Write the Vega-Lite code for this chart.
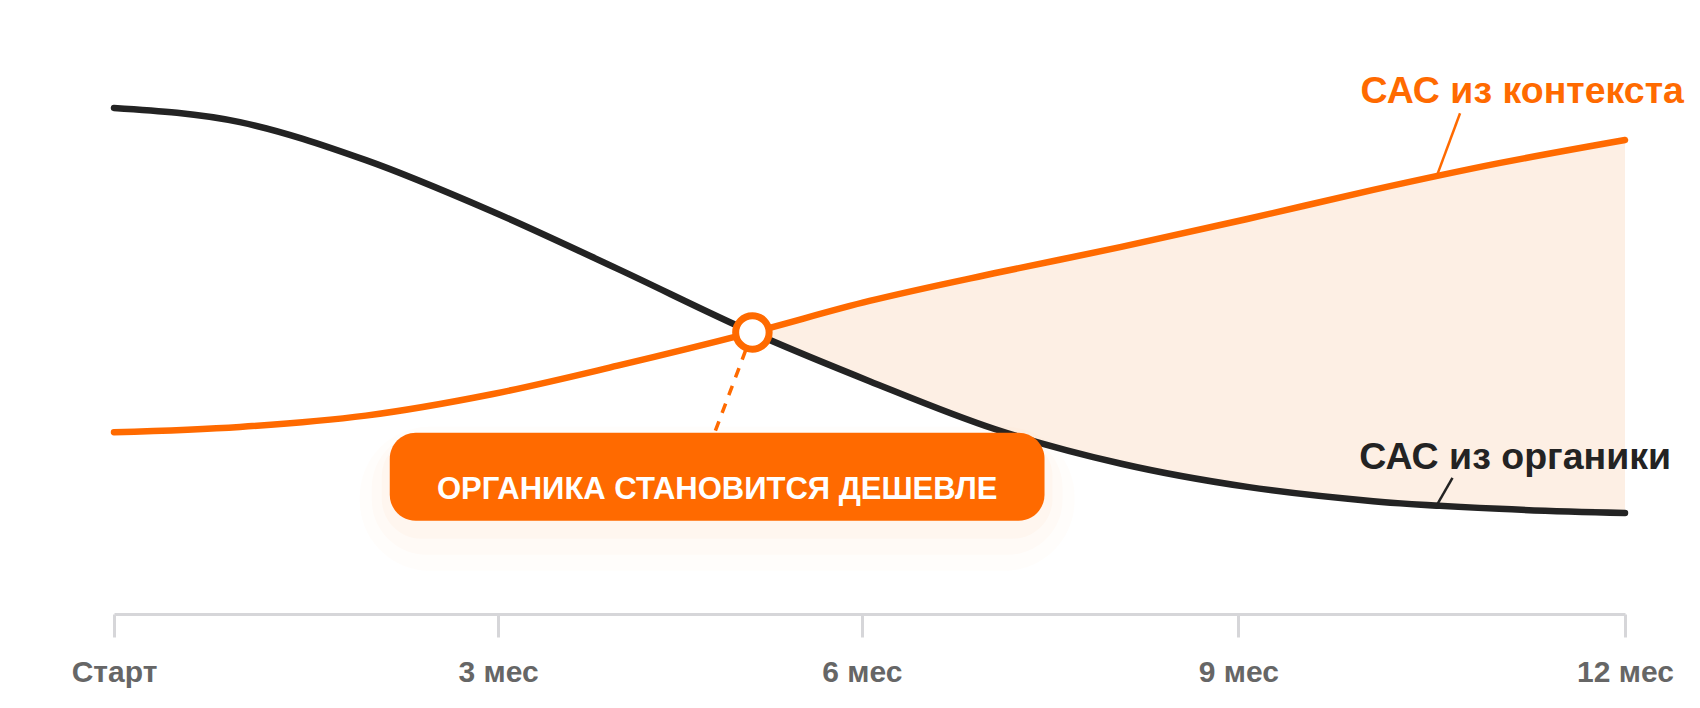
{
  "$schema": "https://vega.github.io/schema/vega-lite/v6.json",
  "description": "CAC from context ads vs CAC from organic over 12 months.",
  "width": 1511,
  "height": 594,
  "autosize": {"type": "none"},
  "padding": {"left": 114, "top": 20, "right": 75, "bottom": 94},
  "background": "#ffffff",
  "config": {"view": {"stroke": null}, "font": "Liberation Sans"},
  "datasets": {
    "curves": [
      {"month": 0, "series": "organic", "cac": 85.2},
      {"month": 1, "series": "organic", "cac": 82.8},
      {"month": 2, "series": "organic", "cac": 76.4},
      {"month": 3, "series": "organic", "cac": 67.8},
      {"month": 4, "series": "organic", "cac": 58.1},
      {"month": 5.07, "series": "organic", "cac": 47.4},
      {"month": 6, "series": "organic", "cac": 39.2},
      {"month": 7, "series": "organic", "cac": 31.1},
      {"month": 8, "series": "organic", "cac": 25.3},
      {"month": 9, "series": "organic", "cac": 21.4},
      {"month": 10, "series": "organic", "cac": 19.0},
      {"month": 11, "series": "organic", "cac": 17.7},
      {"month": 12, "series": "organic", "cac": 17.0},
      {"month": 0, "series": "context", "cac": 30.6},
      {"month": 1, "series": "context", "cac": 31.5},
      {"month": 2, "series": "context", "cac": 33.4},
      {"month": 3, "series": "context", "cac": 37.0},
      {"month": 4, "series": "context", "cac": 41.8},
      {"month": 5.07, "series": "context", "cac": 47.4},
      {"month": 6, "series": "context", "cac": 52.7},
      {"month": 7, "series": "context", "cac": 57.4},
      {"month": 8, "series": "context", "cac": 61.8},
      {"month": 9, "series": "context", "cac": 66.5},
      {"month": 10, "series": "context", "cac": 71.4},
      {"month": 11, "series": "context", "cac": 75.9},
      {"month": 12, "series": "context", "cac": 79.8}
    ],
    "crossing": [{"month": 5.07, "cac": 47.4, "month2": 4.77, "cac2": 30.5}],
    "callout": [{"month": 2.19, "month2": 7.39, "cac": 30.5, "cac2": 15.7}],
    "callout_text": [{"month": 4.79, "cac": 19.4, "text": "ОРГАНИКА СТАНОВИТСЯ ДЕШЕВЛЕ"}],
    "leaders": [
      {"series": "context", "month": 10.69, "cac": 84.3, "month2": 10.51, "cac2": 74.0},
      {"series": "organic", "month": 10.63, "cac": 22.9, "month2": 10.51, "cac2": 18.5}
    ],
    "labels": [
      {"series": "context", "month": 9.9, "cac": 86.0, "text": "САС из контекста"},
      {"series": "organic", "month": 9.89, "cac": 24.4, "text": "САС из органики"}
    ]
  },
  "encoding": {
    "x": {
      "field": "month",
      "type": "quantitative",
      "scale": {"domain": [0, 12], "nice": false, "zero": false},
      "axis": {
        "title": null,
        "grid": false,
        "values": [0, 3.05, 5.94, 8.93, 12],
        "labelExpr": "round(datum.value) == 0 ? 'Старт' : round(datum.value / 3) * 3 + ' мес'",
        "domainColor": "#D6D6D9",
        "domainWidth": 3,
        "tickColor": "#D6D6D9",
        "tickWidth": 3,
        "tickSize": 23,
        "labelFont": "Liberation Sans",
        "labelFontWeight": "bold",
        "labelFontSize": 30,
        "labelColor": "#666666",
        "labelPadding": 44,
        "labelBaseline": "alphabetic",
        "labelFlush": false,
        "labelOverlap": false
      }
    },
    "y": {
      "field": "cac",
      "type": "quantitative",
      "scale": {"domain": [0, 100], "nice": false, "zero": false},
      "axis": null
    }
  },
  "layer": [
    {
      "data": {"name": "curves"},
      "transform": [
        {"pivot": "series", "value": "cac", "groupby": ["month"]},
        {"filter": "datum.month >= 5.07"}
      ],
      "mark": {"type": "area", "interpolate": "monotone", "color": "#FDEFE4"},
      "encoding": {
        "y": {"field": "context", "type": "quantitative", "axis": null},
        "y2": {"field": "organic"}
      }
    },
    {
      "data": {"name": "curves"},
      "mark": {"type": "line", "interpolate": "monotone", "strokeWidth": 6.5, "strokeCap": "round"},
      "encoding": {
        "color": {
          "field": "series",
          "type": "nominal",
          "scale": {"domain": ["context", "organic"], "range": ["#FF6A00", "#232323"]},
          "legend": null
        },
        "order": {"field": "month"}
      }
    },
    {
      "data": {"name": "leaders"},
      "mark": {"type": "rule", "strokeWidth": 2.5},
      "encoding": {
        "x2": {"field": "month2"},
        "y2": {"field": "cac2"},
        "color": {"field": "series", "type": "nominal", "legend": null}
      }
    },
    {
      "data": {"name": "crossing"},
      "mark": {"type": "rule", "color": "#FF6A00", "strokeWidth": 3.5, "strokeDash": [10, 9]},
      "encoding": {
        "x2": {"field": "month2"},
        "y2": {"field": "cac2"}
      }
    },
    {
      "data": {"name": "crossing"},
      "mark": {"type": "point", "shape": "circle", "size": 1120, "filled": true, "fill": "#ffffff", "stroke": "#FF6A00", "strokeWidth": 7, "opacity": 1}
    },
    {
      "data": {"name": "callout"},
      "mark": {"type": "rect", "color": "#FF8A3D", "opacity": 0.018, "cornerRadius": 70, "xOffset": -30, "x2Offset": 30, "yOffset": -6, "y2Offset": 50},
      "encoding": {"x2": {"field": "month2"}, "y2": {"field": "cac2"}}
    },
    {
      "data": {"name": "callout"},
      "mark": {"type": "rect", "color": "#FF8A3D", "opacity": 0.025, "cornerRadius": 55, "xOffset": -18, "x2Offset": 18, "yOffset": 0, "y2Offset": 34},
      "encoding": {"x2": {"field": "month2"}, "y2": {"field": "cac2"}}
    },
    {
      "data": {"name": "callout"},
      "mark": {"type": "rect", "color": "#FF8A3D", "opacity": 0.035, "cornerRadius": 40, "xOffset": -8, "x2Offset": 8, "yOffset": 4, "y2Offset": 18},
      "encoding": {"x2": {"field": "month2"}, "y2": {"field": "cac2"}}
    },
    {
      "data": {"name": "callout"},
      "mark": {"type": "rect", "color": "#FF6A00", "opacity": 1, "cornerRadius": 26},
      "encoding": {"x2": {"field": "month2"}, "y2": {"field": "cac2"}}
    },
    {
      "data": {"name": "callout_text"},
      "mark": {"type": "text", "align": "center", "baseline": "alphabetic", "font": "Liberation Sans", "fontWeight": "bold", "fontSize": 31, "color": "#ffffff"},
      "encoding": {"text": {"field": "text"}}
    },
    {
      "data": {"name": "labels"},
      "mark": {"type": "text", "align": "left", "baseline": "alphabetic", "font": "Liberation Sans", "fontWeight": "bold", "fontSize": 37.5},
      "encoding": {
        "text": {"field": "text"},
        "color": {"field": "series", "type": "nominal", "legend": null}
      }
    }
  ]
}
